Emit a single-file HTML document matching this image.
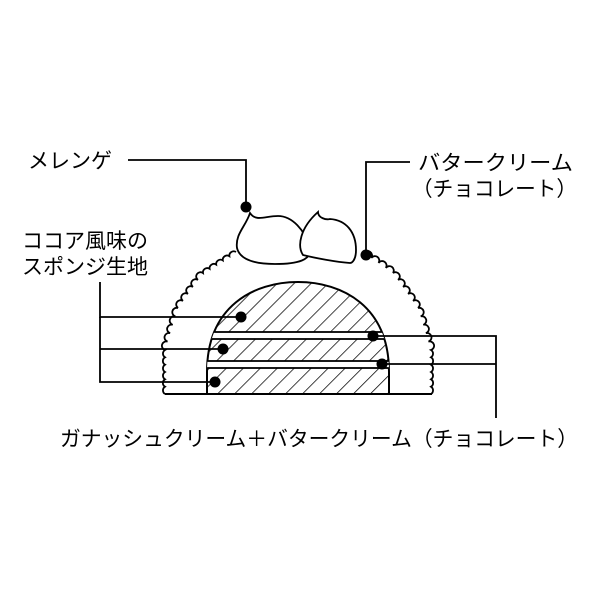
<!DOCTYPE html>
<html><head><meta charset="utf-8"><style>
html,body{margin:0;padding:0;background:#fff;}
svg{display:block}
text{font-family:"Liberation Sans","Noto Sans CJK JP",sans-serif;font-size:21px;fill:#000}
</style></head><body>
<svg id="s" width="600" height="600" viewBox="0 0 600 600">
<defs>
<clipPath id="dome"><path d="M207,394 L207,372 C207,306 254,282 298,282 C342,282 389,306 389,372 L389,394 Z"/></clipPath>
<pattern id="hatch" width="12" height="12" patternUnits="userSpaceOnUse" patternTransform="rotate(45)">
<line x1="0" y1="0" x2="0" y2="12" stroke="#000" stroke-width="1.5"/></pattern>
</defs>
<path id="outer" fill="none" stroke="#000" stroke-width="1.8"/>
<path d="M207,394 L207,372 C207,306 254,282 298,282 C342,282 389,306 389,372 L389,394 Z" fill="url(#hatch)" stroke="#000" stroke-width="2"/>
<g clip-path="url(#dome)">
<rect x="200" y="332" width="200" height="7" fill="#fff" stroke="#000" stroke-width="1.8"/>
<rect x="200" y="361" width="200" height="7" fill="#fff" stroke="#000" stroke-width="1.8"/>
</g>
<line x1="165" y1="394" x2="432" y2="394" stroke="#000" stroke-width="2"/>
<path d="M250,213 C256,222 265,216 278,216 C292,216 305,230 310,248 C312,260 298,264 275,264 C255,264 240,260 237,248 C235,234 246,226 250,213 Z" fill="#fff" stroke="#000" stroke-width="1.8"/>
<path d="M318,212 C318,218 326,220 330,219 C346,220 356,232 356,250 C356,260 352,263 350,263 C336,262 315,258 303,255 C297,246 300,228 318,212 Z" fill="#fff" stroke="#000" stroke-width="1.8"/>
<g stroke="#000" stroke-width="1.8" fill="none">
<polyline points="128,160 246,160 246,205"/>
<polyline points="410,162 366,162 366,255"/>
<polyline points="241,317 100,317 100,282"/>
<polyline points="223,349 100,349"/>
<polyline points="215,382 100,382 100,317"/>
<polyline points="373,336 496,336 496,418"/>
<polyline points="382,364 496,364"/>
</g>
<g fill="#000">
<circle cx="246" cy="207" r="5.5"/><circle cx="366" cy="255" r="5.5"/>
<circle cx="241" cy="317" r="5.5"/><circle cx="223" cy="349" r="5.5"/><circle cx="215" cy="382" r="5.5"/>
<circle cx="373" cy="336" r="5.5"/><circle cx="382" cy="364" r="5.5"/>
</g>
<text x="28" y="168">メレンゲ</text>
<text x="418" y="170" textLength="155" lengthAdjust="spacingAndGlyphs">バタークリーム</text>
<text x="412" y="196" textLength="165" lengthAdjust="spacingAndGlyphs">（チョコレート）</text>
<text x="22" y="248">ココア風味の</text>
<text x="22" y="274">スポンジ生地</text>
<text x="60" y="446" textLength="518" lengthAdjust="spacingAndGlyphs">ガナッシュクリーム＋バタークリーム（チョコレート）</text>
</svg>
<script>
(function(){
var pts=[[165,394],[165,350],[178,308],[203,273],[236,252]];
function bumps(p){var d="M"+p[0][0]+","+p[0][1];
for(var i=0;i<p.length-1;i++){var a=p[i],b=p[i+1],dx=b[0]-a[0],dy=b[1]-a[1],L=Math.hypot(dx,dy),n=Math.max(1,Math.round(L/8));
for(var k=1;k<=n;k++){var x=a[0]+dx*k/n,y=a[1]+dy*k/n;d+=" A4.3,4.3 0 0 1 "+x.toFixed(1)+","+y.toFixed(1);}}
return d;}
var d1=bumps(pts);
var rp=pts.map(function(q){return[600-q[0]-4,q[1]]}).reverse();
rp[0]=[364,253];
var d2=bumps(rp).replace(/^M/," M");
document.getElementById("outer").setAttribute("d",d1+d2);
})();
</script>
</body></html>
